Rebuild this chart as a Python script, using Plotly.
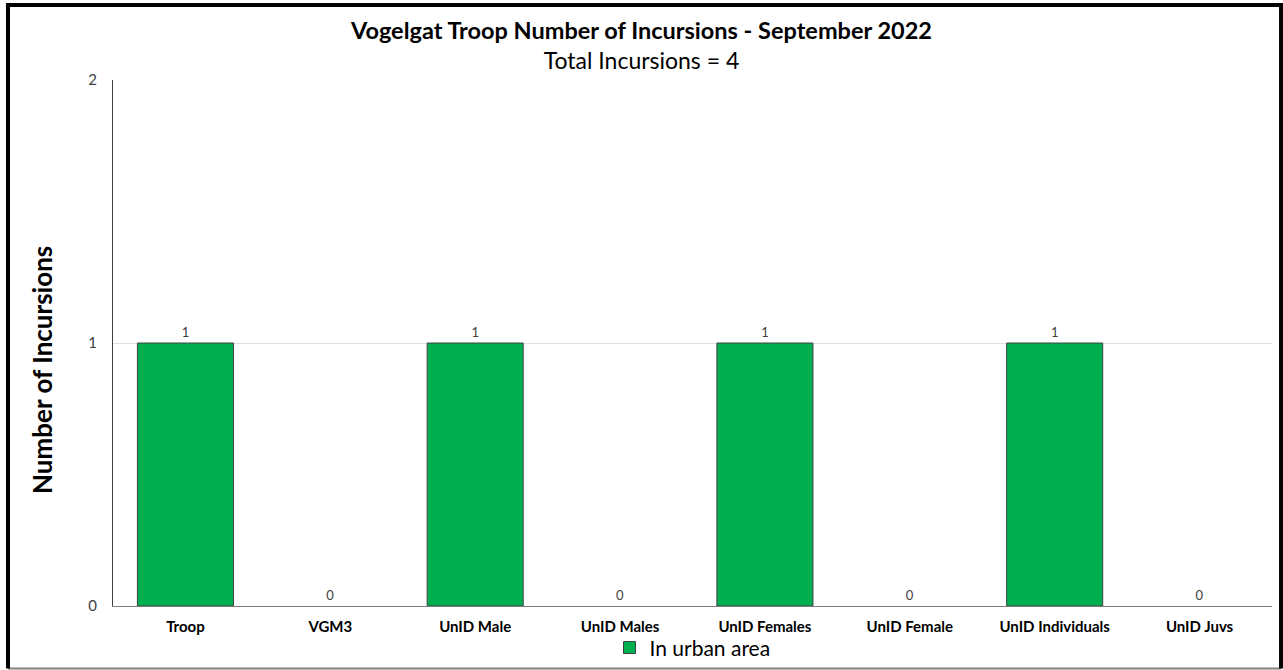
import plotly.graph_objects as go

# Datos del grafico
categorias = ["Troop", "VGM3", "UnID Male", "UnID Males", "UnID Females",
              "UnID Female", "UnID Individuals", "UnID Juvs"]
incursiones = [1, 0, 1, 0, 1, 0, 1, 0]
y_ticks = [0, 1, 2]

fuente = "Lato"

# Borde solo en las barras que tienen altura
bordes = [1 if v > 0 else 0 for v in incursiones]

fig = go.Figure()
fig.add_trace(go.Bar(
    x=categorias,
    y=incursiones,
    name="In urban area",
    marker=dict(color="#00b050", line=dict(color="#404040", width=bordes)),
    width=0.663,
    text=incursiones,
    textposition="outside",
    textfont=dict(family=fuente, size=13, color="#404040"),
    cliponaxis=False,
))

fig.update_layout(
    width=1283,
    height=670,
    paper_bgcolor="white",
    plot_bgcolor="white",
    font=dict(family=fuente, color="black"),
    margin=dict(l=113, r=11, t=80, b=64, autoexpand=False),
    title=dict(
        text="<b>Vogelgat Troop Number of Incursions - September 2022</b><br>"
             "<span style='font-size:23px'>Total Incursions = 4</span>",
        x=0.5, xanchor="center", xref="container",
        y=0.942, yanchor="top", yref="container",
        font=dict(family=fuente, size=23.5, color="black"),
    ),
    showlegend=True,
    legend=dict(
        orientation="h", x=0.5, xanchor="center",
        y=0.033, yanchor="middle", yref="container",
        bgcolor="rgba(0,0,0,0)",
        font=dict(family=fuente, size=21, color="black"),
    ),
)

fig.update_xaxes(
    showline=True, linecolor="#7f7f7f", linewidth=1,
    tickfont=dict(family=fuente, size=15, color="black", weight="bold"),
    ticks="", automargin=False, ticklabelstandoff=7,
)
fig.update_yaxes(
    range=[0, 2], tickvals=y_ticks,
    showgrid=True, gridcolor="#e0e0e0",
    showline=True, linecolor="#404040", linewidth=1,
    zeroline=False, automargin=False,
    tickfont=dict(family=fuente, size=15, color="#404040"),
    ticklabelstandoff=12,
)

# Titulo del eje y (un poco por debajo del centro, como en el original)
fig.add_annotation(
    text="<b>Number of Incursions</b>", textangle=-90,
    xref="paper", yref="paper", x=-0.0613, y=0.4487,
    xanchor="center", yanchor="middle", showarrow=False,
    font=dict(family=fuente, size=26, color="black"),
)

# Marco del grafico
x_izq, x_der, y_sup, y_inf = -0.0906, 1.0078, 1.1426, -0.1188
fig.add_shape(type="line", xref="paper", yref="paper",
              x0=x_izq, x1=x_der, y0=y_inf, y1=y_inf,
              line=dict(color="#808080", width=2))
fig.add_shape(type="path", xref="paper", yref="paper",
              path=f"M {x_izq} {y_inf} L {x_izq} {y_sup} L {x_der} {y_sup} L {x_der} {y_inf}",
              line=dict(color="black", width=4))

# Quitar el margen del body para que la figura quede en la esquina
fig.write_html("out.html", config={"displayModeBar": False},
               post_script="document.body.style.margin='0';")
